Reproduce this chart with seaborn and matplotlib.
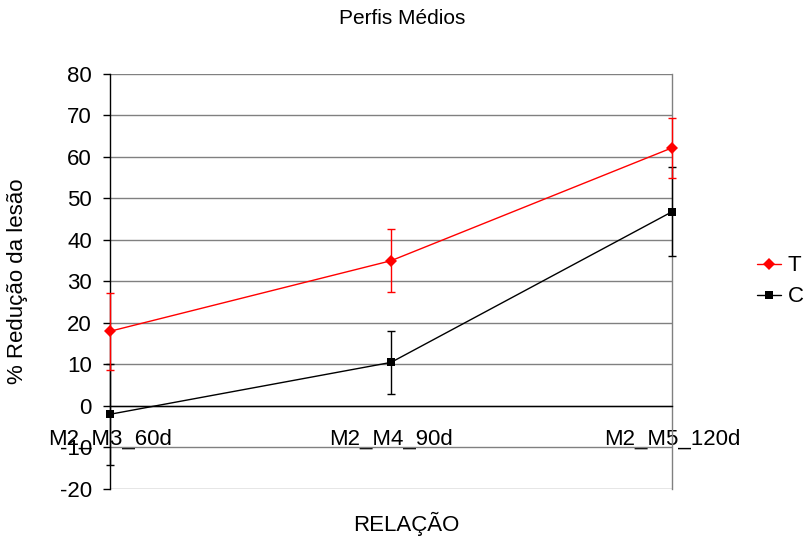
import numpy as np
import pandas as pd
import matplotlib
matplotlib.use("Agg")
import matplotlib.pyplot as plt
import seaborn as sns

# Mean profiles
relacao = ["M2_M3_60d", "M2_M4_90d", "M2_M5_120d"]
t_mean = [18.0, 35.0, 62.2]
t_err = [9.3, 7.6, 7.3]
c_mean = [-2.0, 10.5, 46.8]
c_err = [12.2, 7.6, 10.7]

sns.set_theme(style="white")
plt.rcParams["font.family"] = ["Liberation Sans", "DejaVu Sans"]
plt.rcParams["axes.unicode_minus"] = False
plt.rcParams["text.color"] = "black"
plt.rcParams["axes.labelcolor"] = "black"

pos = np.arange(len(relacao))
df = pd.DataFrame({
    "pos": np.concatenate([pos, pos]),
    "valor": t_mean + c_mean,
    "grupo": ["T"] * len(pos) + ["C"] * len(pos),
})

fig = plt.figure(figsize=(8.05, 5.38), dpi=100)
ax = fig.add_axes([0.1366, 0.0911, 0.6982, 0.7714])

colors = {"T": "#ff0000", "C": "#000000"}
for m, e, col in [(c_mean, c_err, "#000000"), (t_mean, t_err, "#ff0000")]:
    _, caps, bars = ax.errorbar(pos, m, yerr=e, fmt="none", ecolor=col,
                                elinewidth=1, capsize=3, zorder=3)
    for a in list(caps) + list(bars):
        a.set_clip_on(False)

sns.lineplot(data=df, x="pos", y="valor", hue="grupo", style="grupo",
             palette=colors, markers={"T": "D", "C": "s"}, dashes=False,
             markersize=6, markeredgewidth=0, linewidth=1, ax=ax, zorder=4,
             legend=True)
for line in ax.lines:
    line.set_clip_on(False)

ax.set_xlim(0, 2)
ax.set_ylim(-20, 80)
ax.set_yticks(range(-20, 81, 10))
ax.yaxis.grid(True, color="#808080", linewidth=1)
ax.set_axisbelow(True)

ax.spines["bottom"].set_position(("data", 0))
ax.spines["bottom"].set_color("black")
ax.spines["left"].set_color("black")
ax.spines["right"].set_color("#808080")
ax.spines["top"].set_visible(False)
for s in ax.spines.values():
    s.set_linewidth(1)

ax.set_xticks(pos)
ax.set_xticklabels(relacao)
ax.tick_params(axis="x", direction="inout", length=10, width=1, pad=11,
               labelsize=16, colors="black")
ax.tick_params(axis="y", direction="out", length=5, width=1, pad=8,
               labelsize=16, colors="black", left=True)

ax.set_xlabel("RELAÇÃO", fontsize=16, labelpad=0)
ax.xaxis.set_label_coords(0.527, -0.056)
ax.set_ylabel("% Redução da lesão", fontsize=16)
ax.yaxis.set_label_coords(-0.145, 0.5)
fig.suptitle("Perfis Médios", fontsize=15, x=0.5, y=0.983)

handles, labels = ax.get_legend_handles_labels()
ax.legend(handles, labels, loc="center left", bbox_to_anchor=(1.115, 0.5),
          frameon=False, fontsize=16, handlelength=1.1, handletextpad=0.3,
          labelspacing=0.45)

plt.savefig("out.png", dpi=100)
